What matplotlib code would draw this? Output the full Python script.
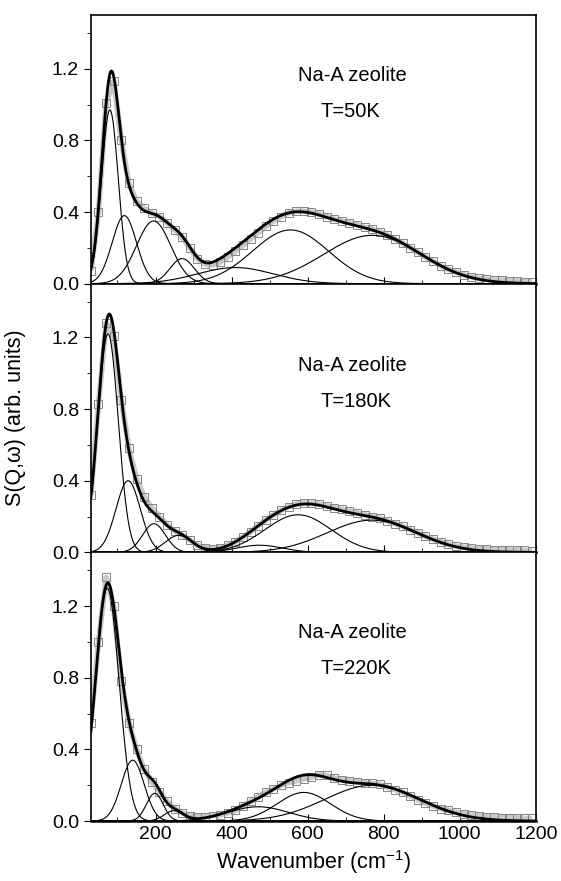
import matplotlib
matplotlib.use('Agg')
import matplotlib.pyplot as plt
import numpy as np
from matplotlib.ticker import MultipleLocator

plt.rcParams['font.family'] = ['Liberation Sans', 'DejaVu Sans']
plt.rcParams['mathtext.fontset'] = 'custom'
plt.rcParams['mathtext.rm'] = 'Liberation Sans'

temps = ['T=50K', 'T=180K', 'T=220K']

# measured points, every 20 cm-1 from 30 to 1190
wn = np.arange(30, 1200, 20)
s_50k = [0.07, 0.40, 1.01, 1.13, 0.80, 0.56, 0.46, 0.42, 0.395, 0.375,
         0.34, 0.30, 0.26, 0.20, 0.14, 0.11, 0.105, 0.12, 0.15, 0.18,
         0.215, 0.25, 0.285, 0.32, 0.35, 0.375, 0.395, 0.405, 0.405, 0.40,
         0.39, 0.375, 0.36, 0.35, 0.34, 0.33, 0.315, 0.305, 0.29, 0.27,
         0.25, 0.225, 0.20, 0.175, 0.15, 0.125, 0.10, 0.08, 0.065, 0.05,
         0.04, 0.03, 0.025, 0.02, 0.02, 0.015, 0.015, 0.012, 0.01]
s_180k = [0.32, 0.83, 1.28, 1.21, 0.85, 0.58, 0.41, 0.31, 0.25, 0.20,
          0.155, 0.12, 0.095, 0.07, 0.04, 0.025, 0.02, 0.025, 0.04, 0.06,
          0.085, 0.115, 0.15, 0.18, 0.21, 0.235, 0.255, 0.27, 0.275, 0.275,
          0.27, 0.26, 0.25, 0.24, 0.23, 0.22, 0.21, 0.20, 0.19, 0.175,
          0.16, 0.145, 0.125, 0.11, 0.09, 0.075, 0.06, 0.045, 0.035, 0.03,
          0.025, 0.02, 0.02, 0.015, 0.015, 0.012, 0.015, 0.012, 0.01]
s_220k = [0.55, 1.00, 1.36, 1.20, 0.78, 0.55, 0.40, 0.29, 0.22, 0.165,
          0.11, 0.07, 0.045, 0.03, 0.025, 0.025, 0.03, 0.035, 0.045, 0.06,
          0.085, 0.11, 0.135, 0.16, 0.18, 0.20, 0.215, 0.225, 0.235, 0.245,
          0.26, 0.255, 0.24, 0.23, 0.225, 0.22, 0.215, 0.21, 0.205, 0.19,
          0.175, 0.16, 0.14, 0.12, 0.10, 0.085, 0.07, 0.06, 0.05, 0.04,
          0.035, 0.03, 0.025, 0.025, 0.02, 0.02, 0.02, 0.015, 0.015]
data = [s_50k, s_180k, s_220k]

# fitted gaussian components: centre, height, sigma (cm-1)
centers = [[80, 118, 195, 270, 410, 555, 770],
           [75, 128, 196, 261, 474, 575, 769],
           [73, 140, 198, 248, 470, 590, 770]]
heights = [[0.97, 0.38, 0.35, 0.14, 0.09, 0.30, 0.27],
           [1.22, 0.40, 0.16, 0.095, 0.04, 0.21, 0.18],
           [1.30, 0.34, 0.155, 0.058, 0.08, 0.16, 0.20]]
sigmas = [[22, 32, 45, 32, 100, 100, 128],
          [27, 32, 30, 35, 60, 87, 118],
          [31, 30, 22, 25, 80, 70, 125]]

xx = np.linspace(30, 1200, 1200)
lab_y = [(1.13, 0.93), (1.01, 0.81), (1.02, 0.82)]

fig, axes = plt.subplots(3, 1, figsize=(5.61, 8.81), dpi=100, sharex=True)
fig.subplots_adjust(left=0.162, right=0.955, top=0.983, bottom=0.068, hspace=0)

for i, ax in enumerate(axes):
    comps = [h * np.exp(-(xx - c) ** 2 / (2 * s ** 2))
             for c, h, s in zip(centers[i], heights[i], sigmas[i])]
    fit = np.sum(comps, axis=0)
    ax.plot(wn, data[i], '-', color='#c8c8c8', lw=4, solid_capstyle='butt')
    ax.plot(wn, data[i], 's', ms=5.5, mfc='none', mec='#858585', mew=0.7)
    for c in comps:
        ax.plot(xx, c, color='black', lw=0.8)
    ax.plot(xx, fit, color='black', lw=2)
    ax.set_xlim(30, 1200)
    ax.set_ylim(0, 1.5)
    ax.yaxis.set_major_locator(MultipleLocator(0.4))
    ax.yaxis.set_minor_locator(MultipleLocator(0.2))
    ax.xaxis.set_major_locator(MultipleLocator(200))
    ax.xaxis.set_minor_locator(MultipleLocator(100))
    ax.tick_params(axis='x', which='both', direction='in', labelsize=14)
    ax.tick_params(axis='y', which='both', direction='out', labelsize=14)
    ax.tick_params(which='major', length=5)
    ax.tick_params(which='minor', length=3)
    for sp in ax.spines.values():
        sp.set_linewidth(1.2)
    ax.spines['bottom'].set_linewidth(1.8)
    ax.text(574, lab_y[i][0], 'Na-A zeolite', fontsize=14.5)
    ax.text(635, lab_y[i][1], temps[i], fontsize=14.5)

axes[2].set_xlabel('Wavenumber (cm$^{-1}$)', fontsize=15.5, labelpad=4)
fig.text(0.027, 0.5255, 'S(Q,\u03c9) (arb. units)', rotation=90,
         fontsize=15.5, ha='center', va='center')
fig.savefig('out.png', dpi=100)
